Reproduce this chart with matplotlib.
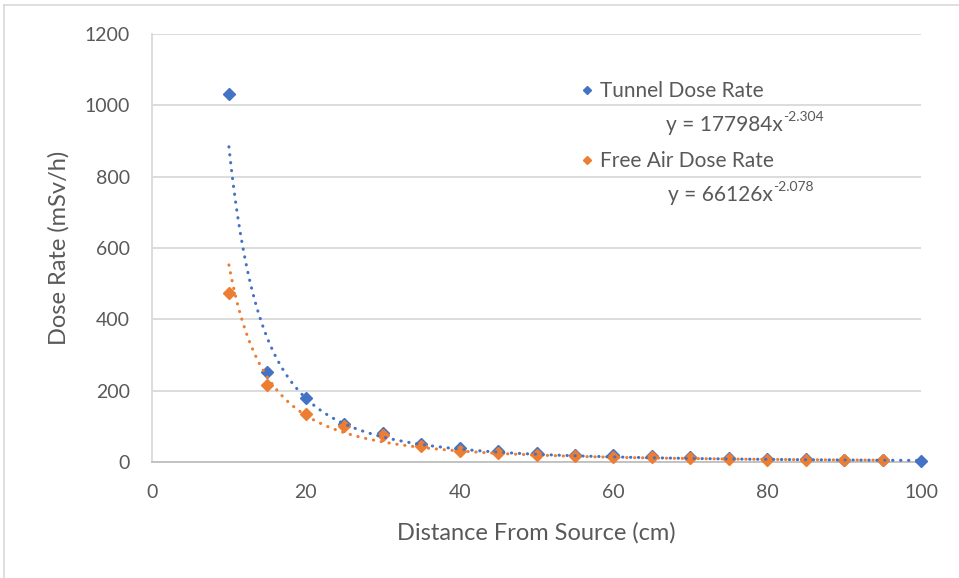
import matplotlib.pyplot as plt
import numpy as np
from matplotlib.lines import Line2D

plt.rcParams['font.family'] = ['Lato', 'DejaVu Sans']

# values
dist_tunnel = [10, 15, 20, 25, 30, 35, 40, 45, 50, 55, 60, 65, 70, 75, 80, 85, 90, 95, 100]
dose_tunnel = [1032, 253, 180, 107, 81, 51, 40, 30, 24, 21, 19, 16, 13, 11, 9, 8, 7, 6, 4]
dist_air = [10, 15, 20, 25, 30, 35, 40, 45, 50, 55, 60, 65, 70, 75, 80, 85, 90, 95]
dose_air = [475, 217, 135, 100, 77, 45, 31, 25, 20, 18, 15, 13, 10, 8, 7, 6, 6, 5]

# power trendlines as printed on the chart
fit_tunnel = (177984, -2.304)
fit_air = (66126, -2.078)

azul = '#4472C4'
laranja = '#ED7D31'
cinza_txt = '#595959'

fig = plt.figure(figsize=(9.59, 5.78), dpi=100)
ax = fig.add_axes([152 / 959, 1 - 462 / 578, 769 / 959, 428 / 578])

ax.plot(dist_tunnel, dose_tunnel, 'D', color=azul, markersize=6.5, zorder=3, clip_on=False)
ax.plot(dist_air, dose_air, 'D', color=laranja, markersize=6.5, zorder=4, clip_on=False)

for dist, (a, b), cor, z in [(dist_tunnel, fit_tunnel, azul, 5), (dist_air, fit_air, laranja, 6)]:
    xs = np.linspace(min(dist), max(dist), 300)
    ax.plot(xs, a * xs ** b, color=cor, linewidth=2.2, linestyle=(0, (0.1, 2.5)),
            dash_capstyle='round', zorder=z, clip_on=False)

ax.set_xlim(0, 100)
ax.set_ylim(0, 1200)
ax.set_xticks(np.arange(0, 101, 20))
ax.set_yticks(np.arange(0, 1201, 200))
ax.grid(axis='y', color='#D9D9D9', linewidth=1.3)
ax.set_axisbelow(True)
for lado in ['top', 'right']:
    ax.spines[lado].set_visible(False)
ax.spines['left'].set_color('#D9D9D9')
ax.spines['left'].set_linewidth(1.3)
ax.spines['bottom'].set_color('#BFBFBF')
ax.spines['bottom'].set_linewidth(1.3)
ax.tick_params(length=0, pad=16, labelsize=14, labelcolor=cinza_txt)

ax.set_xlabel('Distance From Source (cm)', fontsize=17, color=cinza_txt, va='center')
ax.set_ylabel('Dose Rate (mSv/h)', fontsize=17, color=cinza_txt, va='center')
ax.xaxis.set_label_coords(0.5, (462 - 533) / 428)
ax.yaxis.set_label_coords((59 - 152) / 769, 0.5)

# legend and trendline equations
alcas = [Line2D([], [], marker='D', linestyle='none', color=azul, markersize=4.5),
         Line2D([], [], marker='D', linestyle='none', color=laranja, markersize=4.5)]
leg = ax.legend(alcas, ['Tunnel Dose Rate', 'Free Air Dose Rate'], loc='upper left',
                bbox_to_anchor=((581 - 152) / 769, (462 - 81) / 428), frameon=False,
                fontsize=15, labelspacing=2.4, handlelength=0.6, handletextpad=0.3,
                borderpad=0, borderaxespad=0)
for t in leg.get_texts():
    t.set_color(cinza_txt)

for (a, b), x0, y0 in [(fit_tunnel, 666, 125), (fit_air, 668, 195)]:
    base = fig.text(x0 / 959, 1 - y0 / 578, 'y = {}x'.format(a), ha='left', va='center',
                    fontsize=15, color=cinza_txt)
    ax.annotate('{:.3f}'.format(b), xy=(1, 1), xycoords=base, xytext=(0.5, 3),
                textcoords='offset points', ha='left', va='top', fontsize=10, color=cinza_txt)

# chart border (top and left visible)
fig.add_artist(Line2D([4 / 959, 4 / 959], [0, 1 - 5 / 578], color='#D9D9D9', linewidth=1.2))
fig.add_artist(Line2D([4 / 959, 1], [1 - 5 / 578, 1 - 5 / 578], color='#D9D9D9', linewidth=1.2))

plt.savefig('out.png', dpi=100)
